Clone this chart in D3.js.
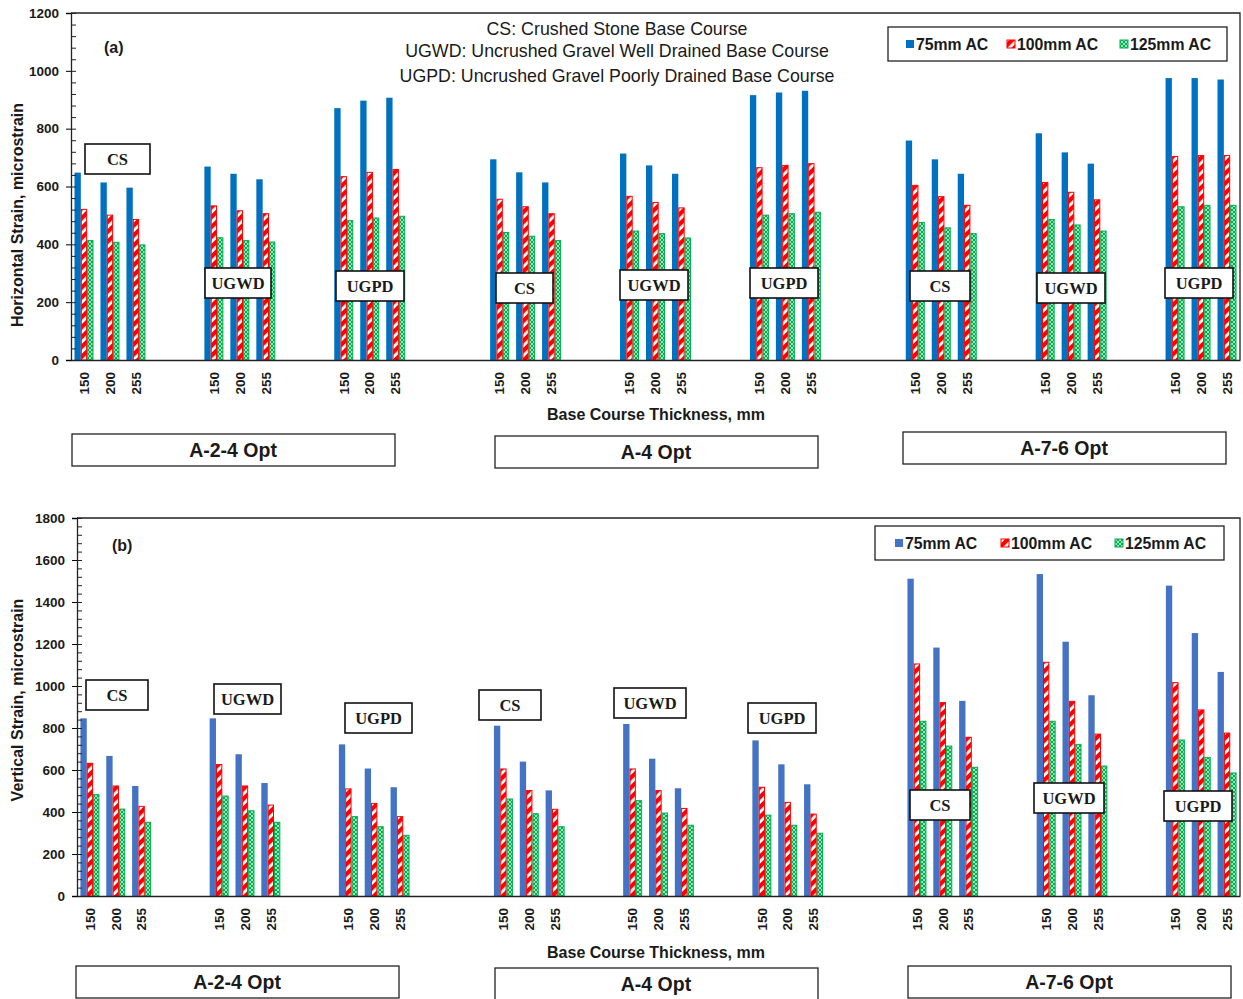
<!DOCTYPE html>
<html>
<head>
<meta charset="utf-8">
<script src="https://cdn.jsdelivr.net/npm/d3@7"></script>
<style>
  body { margin: 0; background: #fff; }
  text { fill: #1a1a1a; }
</style>
</head>
<body>
<div id="holder"></div>
<script>
// categories
const soils = ["A-2-4 Opt", "A-4 Opt", "A-7-6 Opt"];
const baseCourses = ["CS", "UGWD", "UGPD"];
const thickness = ["150", "200", "255"];
const series = ["75mm AC", "100mm AC", "125mm AC"];
const notes = ["CS: Crushed Stone Base Course",
               "UGWD: Uncrushed Gravel Well Drained Base Course",
               "UGPD: Uncrushed Gravel Poorly Drained Base Course"];

// (a) horizontal strain, order: soil > base course > thickness
const horiz75  = [648,614,596, 669,644,625, 871,897,907, 694,649,614, 714,673,644, 916,925,931, 759,694,644, 784,718,679, 975,975,970];
const horiz100 = [521,501,486, 533,516,506, 634,649,659, 556,530,506, 566,545,526, 665,673,679, 604,565,535, 614,580,554, 704,707,707];
const horiz125 = [413,407,398, 423,413,408, 482,491,497, 441,428,413, 446,437,422, 501,506,511, 476,457,437, 486,467,446, 530,535,535];

// (b) vertical strain
const vert75  = [846,667,524, 846,675,538, 722,607,518, 811,640,503, 819,654,513, 741,627,532, 1511,1183,929, 1533,1211,956, 1478,1252,1067];
const vert100 = [632,524,427, 626,524,433, 510,441,378, 605,502,413, 605,502,417, 518,446,390, 1105,921,756, 1113,927,771, 1016,886,776];
const vert125 = [483,414,351, 476,406,351, 378,330,289, 462,392,330, 454,395,337, 385,337,299, 832,714,613, 832,722,619, 743,660,586];

const w = 1243, h = 999;
const SANS = "Liberation Sans, Arial, sans-serif";
const SERIF = "Liberation Serif, Times New Roman, serif";

const svg = d3.select("#holder").append("svg")
    .attr("width", w).attr("height", h)
    .style("font-family", SANS);

// fill patterns
const defs = svg.append("defs");
const stripes = defs.append("pattern")
    .attr("id", "redStripe").attr("patternUnits", "userSpaceOnUse")
    .attr("width", 7).attr("height", 7)
    .attr("patternTransform", "rotate(-45)");
stripes.append("rect").attr("width", 7).attr("height", 7).attr("fill", "#fff");
stripes.append("rect").attr("width", 7).attr("height", 4.2).attr("fill", "#ff0000");

const dots = defs.append("pattern")
    .attr("id", "greenDots").attr("patternUnits", "userSpaceOnUse")
    .attr("width", 4).attr("height", 4);
dots.append("rect").attr("width", 4).attr("height", 4).attr("fill", "#00b050");
dots.append("path").attr("d", "M0,0 L2,2 L4,0 M0,4 L2,2 L4,4")
    .attr("stroke", "#c8f0d6").attr("stroke-width", 0.8).attr("fill", "none");

// slot list: 3 thickness per course, 2 empty slots between courses, 3 between soils
const slots = [];
const cats = [];
soils.forEach((s, si) => {
    baseCourses.forEach((b, bi) => {
        thickness.forEach(t => {
            const key = `${s}|${b}|${t}`;
            slots.push(key);
            cats.push({key, soil: s, course: b, t});
        });
        if (bi < 2) { slots.push(`g${si}${bi}a`); slots.push(`g${si}${bi}b`); }
    });
    if (si < 2) { slots.push(`s${si}a`); slots.push(`s${si}b`); slots.push(`s${si}c`); }
});

function drawPanel(cfg) {
    const x = d3.scaleBand().domain(slots).range([cfg.left, cfg.right]).padding(0);
    const x1 = d3.scaleBand().domain(series).range([-9.5, 9.5]).padding(0);
    const y = d3.scaleLinear().domain([0, cfg.yMax]).range([cfg.bottom, cfg.top]);

    const g = svg.append("g");

    // frame top and right
    g.append("path")
        .attr("d", `M${cfg.left},${cfg.top} H${cfg.right} V${cfg.bottom}`)
        .attr("stroke", "#222").attr("stroke-width", 1.3).attr("fill", "none");

    const fills = [cfg.blue, "url(#redStripe)", "url(#greenDots)"];
    const strokes = ["none", "#ff0000", "#00b050"];
    const rows = cfg.values.map((vals, k) => vals.map((v, i) => ({k, v, key: cats[i].key})));

    g.selectAll("g.series")
        .data(rows)
        .enter().append("g")
        .selectAll("rect")
        .data(d => d)
        .enter().append("rect")
            .attr("x", d => x(d.key) + x.bandwidth() / 2 + x1(series[d.k]) + (d.k ? 0.5 : 0))
            .attr("y", d => y(d.v))
            .attr("width", d => x1.bandwidth() - (d.k ? 1 : 0))
            .attr("height", d => y(0) - y(d.v))
            .attr("fill", d => fills[d.k])
            .attr("stroke", d => strokes[d.k])
            .attr("stroke-width", 1);

    // y axis with labels + major ticks outside
    const majors = d3.range(0, cfg.yMax + 1, 200);
    const minors = d3.range(0, cfg.yMax + 1, 40);
    const yAxis = g.append("g")
        .attr("transform", `translate(${cfg.left},0)`)
        .call(d3.axisLeft(y).tickValues(majors).tickSize(5).tickPadding(7).tickFormat(d3.format("d")));
    yAxis.select(".domain").attr("stroke", "#222").attr("stroke-width", 1.3);
    yAxis.selectAll("text").attr("font-size", 13.5).attr("font-weight", "bold")
        .style("font-family", SANS).attr("fill", "#1a1a1a");
    const yIn = g.append("g")
        .attr("transform", `translate(${cfg.left},0)`)
        .call(d3.axisRight(y).tickValues(minors).tickSize(5).tickFormat(""));
    yIn.select(".domain").remove();
    yIn.selectAll("line").attr("stroke", "#222");

    // x axis
    const xAxis = g.append("g")
        .attr("transform", `translate(0,${cfg.bottom})`)
        .call(d3.axisBottom(x).tickValues(cats.map(c => c.key)).tickSize(0)
            .tickFormat(k => k.split("|")[2]));
    xAxis.select(".domain").attr("stroke", "#222").attr("stroke-width", 1.3);
    xAxis.selectAll("text")
        .attr("transform", "rotate(-90)")
        .attr("x", -12).attr("y", 0).attr("dy", "0.35em")
        .attr("text-anchor", "end")
        .attr("font-size", 13.5).attr("font-weight", "bold")
        .style("font-family", SANS).attr("fill", "#1a1a1a");

    // titles
    svg.append("text")
        .attr("transform", `translate(23,${cfg.yTitleY}) rotate(-90)`)
        .attr("text-anchor", "middle")
        .attr("font-size", 16).attr("font-weight", "bold")
        .text(cfg.yTitle);
    svg.append("text")
        .attr("x", 656).attr("y", cfg.xTitleY)
        .attr("text-anchor", "middle")
        .attr("font-size", 16).attr("font-weight", "bold")
        .text("Base Course Thickness, mm");
    svg.append("text")
        .attr("x", cfg.tag[0]).attr("y", cfg.tag[1])
        .attr("font-size", 16).attr("font-weight", "bold")
        .text(cfg.tag[2]);

    // soil boxes
    soils.forEach((s, i) => {
        const [bx, by] = cfg.soilBoxes[i];
        svg.append("rect").attr("x", bx).attr("y", by).attr("width", 323).attr("height", 32)
            .attr("fill", "#fff").attr("stroke", "#222").attr("stroke-width", 1.3);
        svg.append("text").attr("x", bx + 161).attr("y", by + 23)
            .attr("text-anchor", "middle").attr("font-size", 19.5).attr("font-weight", "bold")
            .text(s);
    });

    // base-course label boxes
    cfg.courseBoxes.forEach((bb, i) => {
        const name = baseCourses[i % 3];
        svg.append("rect").attr("x", bb[0]).attr("y", bb[1]).attr("width", bb[2]).attr("height", 30)
            .attr("fill", "#fff").attr("stroke", "#111").attr("stroke-width", 1.6);
        svg.append("text").attr("x", bb[0] + bb[2] / 2).attr("y", bb[1] + 20.5)
            .attr("text-anchor", "middle")
            .style("font-family", SERIF)
            .attr("font-size", 16.5).attr("font-weight", "bold")
            .text(name);
    });

    // legend
    const L = cfg.legend;
    svg.append("rect").attr("x", L.x).attr("y", L.y).attr("width", L.w).attr("height", 34)
        .attr("fill", "#fff").attr("stroke", "#222").attr("stroke-width", 1.3);
    series.forEach((s, k) => {
        svg.append("rect").attr("x", L.items[k]).attr("y", L.y + 13).attr("width", 8).attr("height", 8)
            .attr("fill", fills[k]).attr("stroke", strokes[k]).attr("stroke-width", 1);
        svg.append("text").attr("x", L.items[k] + 10).attr("y", L.y + 22.5)
            .attr("font-size", 15.8).attr("font-weight", "bold")
            .text(s);
    });
}

drawPanel({
    left: 71, right: 1240, top: 13, bottom: 360, yMax: 1200,
    values: [horiz75, horiz100, horiz125], blue: "#0070c0",
    yTitle: "Horizontal Strain, microstrain", yTitleY: 215, xTitleY: 420,
    tag: [104, 53, "(a)"],
    soilBoxes: [[72, 434], [495, 436], [903, 432]],
    courseBoxes: [[85, 144, 65], [205, 268, 66], [336, 271, 68],
                  [496, 273, 57], [620, 270, 68], [750, 268, 68],
                  [910, 271, 60], [1037, 273, 68], [1165, 268, 68]],
    legend: {x: 888, y: 27, w: 339, items: [906, 1007, 1120]}
});

drawPanel({
    left: 77, right: 1240, top: 518, bottom: 896, yMax: 1800,
    values: [vert75, vert100, vert125], blue: "#4472c4",
    yTitle: "Vertical Strain, microstrain", yTitleY: 700, xTitleY: 958,
    tag: [112, 551, "(b)"],
    soilBoxes: [[76, 966], [495, 968], [908, 966]],
    courseBoxes: [[86, 680, 62], [214, 684, 67], [345, 703, 67],
                  [479, 690, 62], [614, 688, 72], [748, 703, 68],
                  [910, 790, 60], [1034, 783, 70], [1164, 791, 68]],
    legend: {x: 875, y: 526, w: 349, items: [895, 1001, 1115]}
});

// base course notes in panel (a)
notes.forEach((n, i) => {
    svg.append("text")
        .attr("x", 617).attr("y", [35, 57, 82][i])
        .attr("text-anchor", "middle")
        .attr("font-size", 17.8)
        .text(n);
});
</script>
</body>
</html>
